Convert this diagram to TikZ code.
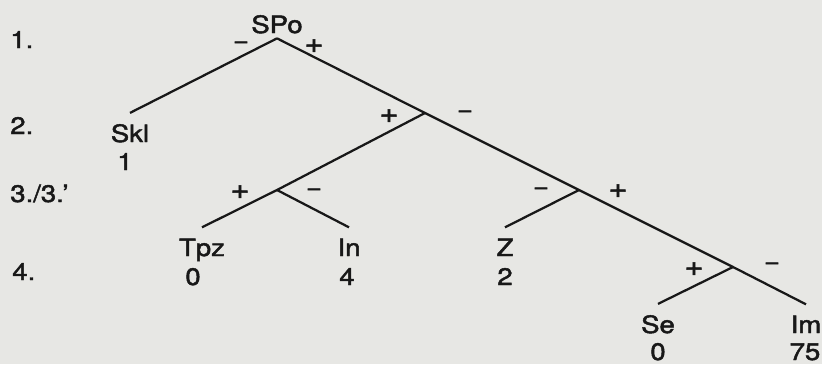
\documentclass[tikz,border=0pt]{standalone}
\usepackage{fontspec}
\setmainfont[FakeBold=1.8]{TeX Gyre Heros}
\definecolor{paper}{RGB}{231,231,228}
\definecolor{ink}{RGB}{24,24,24}

\begin{document}
\begin{tikzpicture}[x=0.025cm, y=-0.025cm,
    branch/.style={ink, line width=1.6pt},
    txt/.style={ink, font=\fontsize{17}{20}\selectfont, xscale=1.15, inner sep=0pt},
    word/.style={txt, anchor=base, outer sep=8pt},
    count/.style={txt, anchor=base},
    minus/.style={txt},
    plus/.style={txt, font=\fontsize{20}{24}\selectfont, xscale=1},
    level/.style={txt, anchor=base west}]
  \fill[paper] (0,0) rectangle (822,364);
  \useasboundingbox (0,0) rectangle (822,364);

  % levels
  \node[level] (lev1) at (10,48) {1.};
  \node[level] (lev2) at (10,134) {2.};
  \node[level] (lev3) at (10,202) {3./3.’};
  \node[level] (lev4) at (12,280) {4.};

  % root and leaves
  \node[word, outer sep=3.5pt] (spo) at (277,33) {SPo};
  \node[word] (skl) at (130,142) {Skl};
  \node[word] (tpz) at (202,256) {Tpz};
  \node[word] (in) at (349,256) {In};
  \node[word] (z) at (505,256) {Z};
  \node[word] (se) at (658,333) {Se};
  \node[word] (im) at (806,333) {Im};

  \node[count] (skl-n) at (125,170) {1};
  \node[count] (tpz-n) at (193,285) {0};
  \node[count] (in-n) at (347,285) {4};
  \node[count] (z-n) at (505,285) {2};
  \node[count] (se-n) at (658,360) {0};
  \node[count] (im-n) at (805,360) {75};

  % branching points
  \coordinate (b) at (425,113);
  \coordinate (c) at (277,190);
  \coordinate (d) at (579,190);
  \coordinate (e) at (733,267);

  \draw[branch] (spo.south) -- (skl.north);
  \draw[branch] (spo.south) -- (b) -- (d) -- (e) -- (im.north);
  \draw[branch] (b) -- (c) -- (tpz.north);
  \draw[branch] (c) -- (in.north);
  \draw[branch] (d) -- (z.north);
  \draw[branch] (e) -- (se.north);

  % signs
  \node[minus] (a-m) at (241,45) {−};
  \node[plus] (a-p) at (314,46) {+};
  \node[plus] (b-p) at (389,116) {+};
  \node[minus] (b-m) at (465,114) {−};
  \node[plus] (c-p) at (240,192) {+};
  \node[minus] (c-m) at (314,192) {−};
  \node[minus] (d-m) at (541,191) {−};
  \node[plus] (d-p) at (618,191) {+};
  \node[plus] (e-p) at (694,269) {+};
  \node[minus] (e-m) at (772,266) {−};
\end{tikzpicture}
\end{document}
